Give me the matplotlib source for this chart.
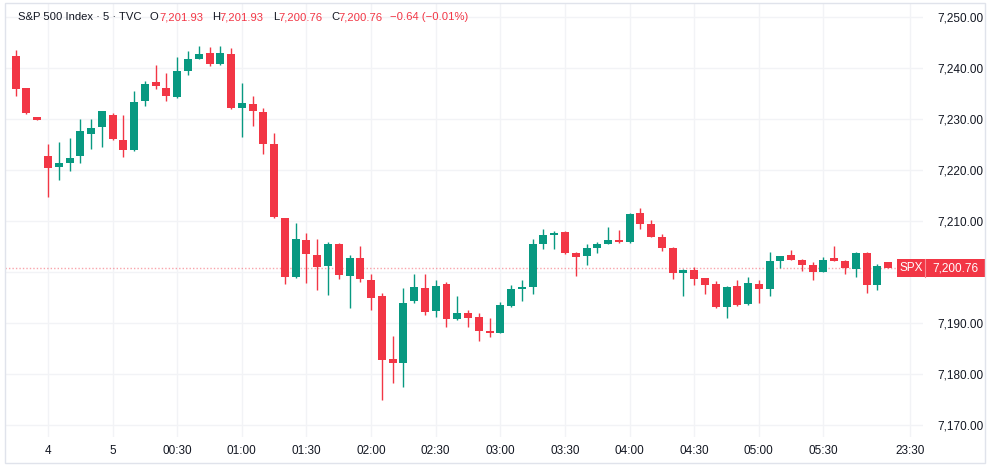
import matplotlib
matplotlib.use("Agg")
import matplotlib.pyplot as plt
import matplotlib.transforms as mtrans
from matplotlib.patches import Rectangle
import numpy as np

# 5 minute candles
opens = [7242.4, 7236.0, 7230.3, 7222.8, 7220.5, 7221.4, 7222.7, 7227.1, 7228.5, 7230.8,
         7225.9, 7223.9, 7233.5, 7237.2, 7236.1, 7234.4, 7239.5, 7241.8, 7242.9, 7240.8,
         7242.7, 7232.2, 7232.9, 7231.4, 7225.2, 7210.5, 7199.1, 7206.3, 7203.3, 7201.2,
         7205.5, 7199.3, 7202.7, 7198.4, 7195.2, 7182.9, 7182.1, 7194.3, 7196.9, 7192.3,
         7197.6, 7190.7, 7191.9, 7191.1, 7188.4, 7188.1, 7193.3, 7196.7, 7197.0, 7205.4,
         7207.2, 7207.8, 7203.8, 7203.1, 7204.8, 7205.5, 7206.3, 7205.8, 7211.5, 7209.4,
         7206.9, 7204.8, 7199.8, 7200.3, 7198.8, 7197.6, 7193.2, 7197.3, 7193.7, 7197.6,
         7196.7, 7202.2, 7203.3, 7202.4, 7201.4, 7200.1, 7202.7, 7202.2, 7200.5, 7203.8,
         7197.5, 7201.93]
highs = [7243.5, 7236.1, 7230.4, 7225.1, 7225.5, 7226.3, 7230.0, 7230.1, 7231.6, 7231.1,
         7230.8, 7235.5, 7237.5, 7240.6, 7239.0, 7242.1, 7243.3, 7244.3, 7244.2, 7244.3,
         7243.9, 7237.1, 7234.5, 7232.2, 7227.2, 7210.6, 7209.7, 7207.6, 7206.5, 7205.9,
         7205.6, 7203.3, 7205.1, 7199.7, 7195.9, 7187.5, 7196.9, 7199.7, 7199.7, 7198.4,
         7198.0, 7195.3, 7192.5, 7191.9, 7190.9, 7194.2, 7197.5, 7198.4, 7206.4, 7208.4,
         7208.1, 7208.0, 7204.0, 7205.4, 7205.8, 7208.8, 7208.2, 7211.5, 7212.5, 7210.2,
         7207.4, 7204.9, 7200.5, 7200.9, 7198.9, 7198.2, 7197.2, 7198.4, 7199.1, 7198.4,
         7204.0, 7203.2, 7204.4, 7202.6, 7202.0, 7202.9, 7205.1, 7202.3, 7203.9, 7203.9,
         7201.6, 7201.93]
lows = [7234.6, 7231.0, 7229.8, 7214.8, 7218.0, 7219.9, 7221.4, 7224.2, 7224.6, 7225.9,
        7222.6, 7223.7, 7232.5, 7235.8, 7233.5, 7234.2, 7238.7, 7241.7, 7240.4, 7240.5,
        7231.9, 7226.5, 7228.6, 7223.1, 7210.6, 7197.6, 7198.8, 7197.9, 7196.5, 7195.4,
        7198.6, 7192.9, 7198.0, 7192.5, 7174.9, 7178.2, 7177.4, 7193.9, 7191.6, 7191.1,
        7189.2, 7190.6, 7189.3, 7186.5, 7187.3, 7188.0, 7193.1, 7194.4, 7195.6, 7204.5,
        7204.6, 7203.6, 7199.2, 7201.4, 7203.7, 7205.4, 7205.7, 7205.7, 7208.4, 7206.8,
        7204.2, 7198.6, 7195.3, 7197.5, 7195.6, 7193.0, 7190.9, 7193.3, 7193.6, 7194.0,
        7195.2, 7200.8, 7202.3, 7200.2, 7198.4, 7200.0, 7202.1, 7199.7, 7199.0, 7195.9,
        7196.5, 7200.76]
closes = [7235.9, 7231.1, 7229.9, 7220.3, 7221.4, 7222.3, 7227.6, 7228.3, 7231.5, 7226.1,
          7223.9, 7233.4, 7236.9, 7236.5, 7234.6, 7239.5, 7241.8, 7242.7, 7240.8, 7242.9,
          7232.1, 7233.1, 7231.6, 7225.1, 7210.7, 7199.1, 7206.5, 7203.5, 7201.0, 7205.5,
          7199.4, 7202.7, 7198.6, 7195.0, 7182.7, 7182.1, 7193.9, 7197.0, 7192.2, 7197.3,
          7190.7, 7191.9, 7191.0, 7188.4, 7188.1, 7193.5, 7196.6, 7197.1, 7205.4, 7207.3,
          7207.6, 7203.8, 7203.0, 7204.8, 7205.5, 7206.3, 7205.8, 7211.4, 7209.4, 7206.9,
          7204.8, 7199.9, 7200.4, 7198.7, 7197.5, 7193.1, 7197.1, 7193.5, 7197.9, 7196.7,
          7202.2, 7203.1, 7202.4, 7201.4, 7200.1, 7202.4, 7202.2, 7200.7, 7203.8, 7197.5,
          7201.2, 7200.76]

last_price = 7200.76
price_ticks = [7170, 7180, 7190, 7200, 7210, 7220, 7230, 7240, 7250]
time_pos = [3, 9, 15, 21, 27, 33, 39, 45, 51, 57, 63, 69, 75, 83]
time_labels = ["4", "5", "00:30", "01:00", "01:30", "02:00", "02:30", "03:00",
               "03:30", "04:00", "04:30", "05:00", "05:30", "23:30"]

UP = "#089981"
DOWN = "#F23645"
TXT = "#131722"
GRID = "#f2f3f6"
FONT = "Liberation Sans"

W, H = 1000, 471
fig = plt.figure(figsize=(W / 100, H / 100), dpi=100)
fig.patch.set_facecolor("white")

# plot area in pixels: x 5..923, y 3..437
ax = fig.add_axes([5 / W, 1 - 437 / H, 918 / W, 434 / H])
ax.set_facecolor("white")

o = np.array(opens)
h = np.array(highs)
l = np.array(lows)
c = np.array(closes)
x = np.arange(len(o))
cols = np.where(c >= o, UP, DOWN)

ax.vlines(x, l, h, colors=cols, linewidth=1, zorder=3)
body_lo = np.minimum(o, c)
body_h = np.maximum(np.abs(c - o), 0.25)
ax.bar(x, body_h, bottom=body_lo, width=0.74, color=cols, linewidth=0, zorder=4)

# last price line
ax.axhline(last_price, color=DOWN, alpha=0.45, linewidth=1, linestyle=(0, (1, 1.5)), zorder=2)

ax.set_xlim(-0.99, 84.24)
ax.set_ylim(7167.65, 7252.75)

ax.set_xticks(time_pos)
ax.set_xticklabels(time_labels)
ax.set_yticks(price_ticks)
# the 7,200.00 label sits under the price tag, so it is not shown
ax.set_yticklabels(["" if abs(p - last_price) < 3 else "{:,.2f}".format(p) for p in price_ticks])
ax.yaxis.tick_right()
ax.tick_params(axis="both", length=0, labelsize=8.5, labelcolor=TXT)
ax.tick_params(axis="y", pad=10)
ax.tick_params(axis="x", pad=6)
for lab in ax.get_xticklabels() + ax.get_yticklabels():
    lab.set_fontfamily(FONT)
ax.grid(True, color=GRID, linewidth=1, zorder=0)
ax.set_axisbelow(True)
for s in ax.spines.values():
    s.set_visible(False)

# outer border of the widget
fig.patches.append(Rectangle((5 / W, 1 - 463 / H), 980 / W, 460 / H, transform=fig.transFigure,
                             fill=False, edgecolor="#e0e3eb", linewidth=1))

# SPX price tag
tr = mtrans.blended_transform_factory(fig.transFigure, ax.transData)
half = 9 / 5.1
ax.add_patch(Rectangle((897 / W, last_price - half), 88 / W, 2 * half, transform=tr,
                       facecolor=DOWN, edgecolor="none", clip_on=False, zorder=10))
ax.plot([925 / W, 925 / W], [last_price - half, last_price + half], transform=tr,
        color="#f88a94", linewidth=0.8, clip_on=False, zorder=11)
ax.text(911 / W, last_price, "SPX", transform=tr, ha="center", va="center",
        color="white", fontsize=8.5, family=FONT, zorder=12, clip_on=False)
ax.text(955 / W, last_price, "{:,.2f}".format(last_price), transform=tr, ha="center",
        va="center", color="white", fontsize=8.5, family=FONT, zorder=12, clip_on=False)

# header legend
hy = 1 - 17 / H
head = [(18, "S&P 500 Index · 5 · TVC", TXT), (150, "O", TXT), (159, "7,201.93", DOWN),
        (212, "H", TXT), (219.5, "7,201.93", DOWN), (273, "L", TXT), (278, "7,200.76", DOWN),
        (331.5, "C", TXT), (338, "7,200.76", DOWN), (389.5, "\u22120.64 (\u22120.01%)", DOWN)]
for px, s, col in head:
    fig.text(px / W, hy, s, ha="left", va="center", color=col, fontsize=8.1, family=FONT)

fig.savefig("out.png", dpi=100, facecolor="white")
